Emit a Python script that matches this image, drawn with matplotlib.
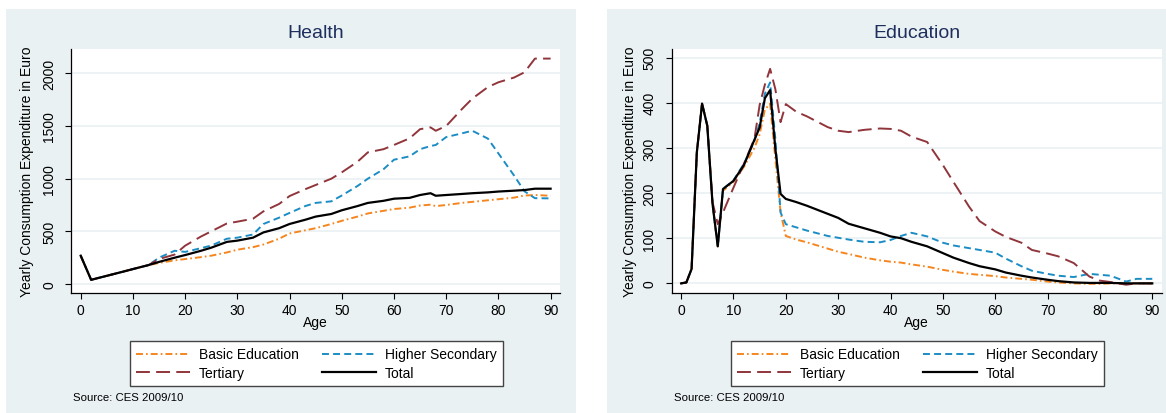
import numpy as np
import matplotlib
matplotlib.use("Agg")
import matplotlib.pyplot as plt
from matplotlib.patches import Rectangle

plt.rcParams['font.family'] = ['Liberation Sans', 'DejaVu Sans']
plt.rcParams['lines.scale_dashes'] = False

# ---- Health panel data (yearly consumption expenditure in Euro by age)
health_age = [0, 2, 5, 8, 10, 13, 15, 18, 20, 23, 25, 28, 30, 33, 35, 38, 40, 43, 45, 48,
              50, 53, 55, 58, 60, 63, 65, 67, 68, 70, 73, 75, 78, 80, 83, 85, 87, 90]
health_basic = [269, 40, 78, 116, 142, 180, 200, 225, 237, 255, 269, 300, 326, 350, 375, 430,
                480, 510, 530, 570, 600, 640, 670, 695, 712, 725, 745, 753, 740, 750, 770, 780,
                795, 805, 820, 840, 845, 838]
health_higher = [269, 40, 78, 116, 142, 180, 250, 316, 305, 340, 365, 430, 440, 470, 570, 630,
                 675, 740, 770, 785, 840, 930, 1000, 1090, 1180, 1212, 1280, 1310, 1320, 1395,
                 1430, 1455, 1380, 1240, 1030, 880, 815, 813]
health_tertiary = [269, 40, 78, 116, 142, 180, 237, 280, 364, 450, 500, 575, 592, 620, 690, 760,
                   835, 900, 940, 1000, 1060, 1160, 1250, 1280, 1320, 1383, 1470, 1487, 1455,
                   1500, 1660, 1760, 1870, 1915, 1960, 2010, 2140, 2140]
health_total = [269, 40, 78, 116, 142, 180, 210, 250, 275, 315, 345, 400, 412, 440, 490, 530,
                570, 610, 640, 665, 700, 740, 770, 790, 810, 818, 845, 862, 838, 845, 855, 862,
                870, 878, 886, 892, 905, 905]

# ---- Education panel data
edu_age = [0, 1, 2, 3, 4, 5, 6, 7, 8, 10, 12, 14, 15, 16, 17, 18, 19, 20, 22, 24, 28, 30, 32,
           35, 38, 40, 42, 44, 47, 50, 52, 55, 57, 60, 62, 65, 67, 70, 72, 75, 78, 80, 82, 85,
           87, 90]
edu_basic = [0, 2, 32, 290, 398, 349, 176, 82, 205, 225, 258, 300, 330, 385, 398, 275, 157, 105,
             97, 91, 77, 70, 65, 57, 51, 48, 46, 42, 37, 30, 26, 21, 19, 16, 13, 10, 8, 4, 2, 0,
             -1, -1, 0, 0, 0, 0]
edu_higher = [0, 2, 32, 290, 398, 349, 176, 82, 209, 228, 265, 315, 355, 420, 445, 320, 157, 131,
              124, 117, 105, 101, 97, 92, 91, 96, 105, 112, 104, 90, 84, 78, 74, 68, 55, 38, 28,
              21, 17, 14, 21, 19, 17, 4, 10, 10]
edu_tertiary = [0, 2, 32, 290, 398, 349, 180, 131, 157, 212, 265, 320, 395, 440, 475, 430, 357,
                397, 380, 370, 346, 338, 335, 340, 343, 342, 338, 325, 313, 262, 225, 170, 138,
                115, 103, 90, 74, 66, 60, 45, 15, 6, 3, -3, 0, 0]
edu_total = [0, 2, 32, 290, 398, 349, 176, 82, 209, 227, 262, 318, 345, 410, 428, 298, 198, 187,
             180, 172, 154, 145, 132, 122, 112, 104, 100, 92, 82, 67, 57, 45, 38, 31, 24, 17, 13,
             8, 5, 2, 1, 1, 1, 0, 0, 0]

x_ticks = list(range(0, 91, 10))
health_yticks = [0, 500, 1000, 1500, 2000]
edu_yticks = [0, 100, 200, 300, 400, 500]

c_basic = '#F5861F'
c_higher = '#1C8DC4'
c_tertiary = '#90353B'
c_total = '#000000'
bg = '#EAF1F3'

W, H = 1166, 414
fig = plt.figure(figsize=(W / 100, H / 100), dpi=100)
fig.patch.set_facecolor('white')

# panel backgrounds
fig.patches.append(Rectangle((6 / W, 0), (575.5 - 6) / W, (H - 10) / H,
                             transform=fig.transFigure, facecolor=bg, edgecolor='none', zorder=-10))
fig.patches.append(Rectangle((606.7 / W, 0), (W - 606.7) / W, (H - 10) / H,
                             transform=fig.transFigure, facecolor=bg, edgecolor='none', zorder=-10))


def draw_panel(left_px, right_px, ylab_px, title, ages, basic, higher, tertiary, total,
               yticks, ylim):
    ax = fig.add_axes([left_px / W, (H - 294.3) / H, (right_px - left_px) / W, 244.3 / H])
    ax.set_facecolor('white')
    ax.plot(ages, basic, color=c_basic, lw=1.4, dashes=(5, 2.2, 1.2, 2.2), label='Basic Education')
    ax.plot(ages, higher, color=c_higher, lw=1.4, dashes=(5, 3), label='Higher Secondary')
    ax.plot(ages, tertiary, color=c_tertiary, lw=1.4, dashes=(10, 4.5), label='Tertiary')
    ax.plot(ages, total, color=c_total, lw=1.6, label='Total')

    ax.set_xlim(-1.8, 91.8)
    ax.set_ylim(*ylim)
    ax.set_xticks(x_ticks)
    ax.set_yticks(yticks)
    ax.grid(axis='y', color=bg, lw=1.2)
    ax.set_axisbelow(True)
    for s in ['top', 'right']:
        ax.spines[s].set_visible(False)
    for s in ['left', 'bottom']:
        ax.spines[s].set_linewidth(0.9)
    ax.tick_params(axis='both', length=4, width=0.8, labelsize=10, colors='black')
    ax.tick_params(axis='x', pad=3)
    ax.tick_params(axis='y', pad=7, labelrotation=90)
    for lab in ax.get_yticklabels():
        lab.set_va('center')

    ax.set_xlabel('Age', fontsize=10)
    ax.xaxis.set_label_coords(0.5, -0.117)
    ax.xaxis.label.set_va('center')
    ax.set_ylabel('Yearly Consumption Expenditure in Euro', fontsize=10)
    ax.yaxis.set_label_coords((ylab_px - left_px) / (right_px - left_px), 0.5)
    ax.yaxis.label.set_va('center')

    cx = (left_px + right_px) / 2
    fig.text(cx / W, (H - 33) / H, title, ha='center', va='center', fontsize=14, color='#1E2F5E')

    h = ax.get_legend_handles_labels()[0]
    leg = ax.legend([h[0], h[2], h[1], h[3]],
                    ['Basic Education', 'Tertiary', 'Higher Secondary', 'Total'],
                    ncol=2, loc='center', bbox_to_anchor=((cx + 0.5) / W, (H - 364.5) / H),
                    bbox_transform=fig.transFigure, fontsize=10, frameon=True, fancybox=False,
                    handlelength=3.9, handletextpad=0.6, columnspacing=1.7,
                    labelspacing=0.3, borderpad=0.45, borderaxespad=0)
    leg.get_frame().set_edgecolor('#444444')
    leg.get_frame().set_linewidth(1.0)
    leg.get_frame().set_facecolor('white')
    leg.get_frame().set_alpha(1)

    fig.text((left_px + 2) / W, (H - 398.3) / H, 'Source: CES 2009/10', fontsize=8.2,
             ha='left', va='center', color='black')
    return ax


draw_panel(71.3, 560, 27, 'Health', health_age, health_basic, health_higher, health_tertiary,
           health_total, health_yticks, (-88, 2231))
draw_panel(671.7, 1161.7, 630, 'Education', edu_age, edu_basic, edu_higher, edu_tertiary,
           edu_total, edu_yticks, (-22, 519))

fig.savefig('out.png', dpi=100)
